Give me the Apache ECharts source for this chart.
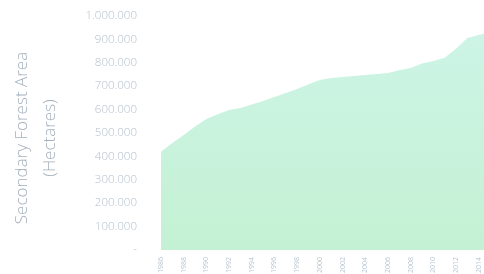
<!DOCTYPE html>
<html>
<head>
<meta charset="utf-8">
<script src="https://cdn.jsdelivr.net/npm/echarts@6/dist/echarts.min.js"></script>
<style>
html, body { margin: 0; padding: 0; background: #fff; }
#main { width: 484px; height: 274px; }
</style>
</head>
<body>
<div id="main"></div>
<script>
// years on the x axis (every other one gets a label)
var years = [];
for (var y = 1986; y <= 2015; y++) years.push(String(y));

// secondary forest area, hectares
var area = [
	420000, 457000, 491000, 528000, 560000, 580000, 598000, 607000, 622000, 637000,
	654000, 671000, 688000, 708000, 726000, 735000, 739000, 744000, 748000, 752000,
	756000, 768000, 778000, 797000, 808000, 822000, 860000, 906000, 919000, 930000
];

var yTicks = [0, 100000, 200000, 300000, 400000, 500000, 600000, 700000, 800000, 900000, 1000000];

function fmt(v) {
	if (v === 0) return '-';
	return String(v).replace(/\B(?=(\d{3})+(?!\d))/g, '.');
}

var myChart = echarts.init(document.getElementById('main'));

var option = {
	backgroundColor: '#ffffff',
	animation: false,
	grid: {
		left: 161,
		right: -6,
		top: 16,
		bottom: 24,
		outerBoundsMode: 'none'
	},
	xAxis: {
		type: 'category',
		boundaryGap: false,
		data: years,
		axisLine: { show: false },
		axisTick: { show: false },
		axisLabel: {
			interval: 1,
			rotate: 90,
			margin: 7,
			fontSize: 7,
			color: '#b9c6d2',
			fontFamily: 'Open Sans'
		},
		splitLine: { show: false }
	},
	yAxis: {
		type: 'value',
		min: yTicks[0],
		max: yTicks[yTicks.length - 1],
		interval: 100000,
		name: 'Secondary Forest Area\n(Hectares)',
		nameLocation: 'middle',
		nameGap: 97,
		nameTextStyle: {
			fontSize: 17,
			lineHeight: 28,
			padding: [0, 10, 0, 0],
			color: '#a3afbb',
			fontFamily: 'Open Sans',
			fontWeight: 'lighter'
		},
		axisLine: { show: false },
		axisTick: { show: false },
		splitLine: { show: false },
		axisLabel: {
			margin: 24,
			fontSize: 11.5,
			color: '#b3c0cd',
			fontFamily: 'Open Sans',
			fontWeight: 'lighter',
			formatter: fmt
		}
	},
	series: [{
		name: 'Secondary forest',
		type: 'line',
		data: area,
		symbol: 'none',
		lineStyle: { width: 0 },
		areaStyle: {
			opacity: 1,
			color: {
				type: 'linear',
				x: 0, y: 0, x2: 0, y2: 1,
				colorStops: [
					{ offset: 0, color: '#cdf4e6' },
					{ offset: 1, color: '#c4f1d3' }
				]
			}
		}
	}]
};

myChart.setOption(option);
</script>
</body>
</html>
